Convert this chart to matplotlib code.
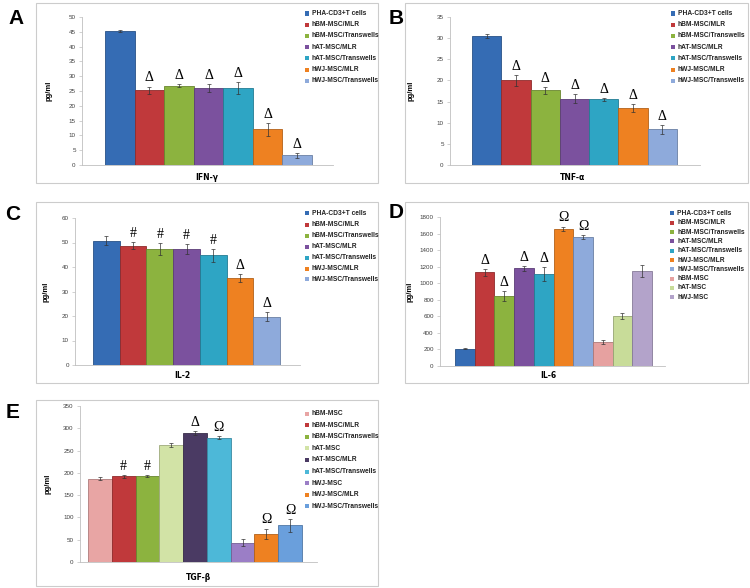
#!/usr/bin/env python3
''' cytokine levels in five bar panels (A-E)'''
import numpy as np
import matplotlib.pyplot as plt
from matplotlib.patches import Rectangle
from matplotlib.colors import to_rgb

W, H = 750, 588

# ---- data ----
groups7 = ['PHA-CD3+T cells', 'hBM-MSC/MLR', 'hBM-MSC/Transwells',
           'hAT-MSC/MLR', 'hAT-MSC/Transwells', 'hWJ-MSC/MLR',
           'hWJ-MSC/Transwells']
groups_il6 = groups7 + ['hBM-MSC', 'hAT-MSC', 'hWJ-MSC']
groups_tgf = ['hBM-MSC', 'hBM-MSC/MLR', 'hBM-MSC/Transwells', 'hAT-MSC',
              'hAT-MSC/MLR', 'hAT-MSC/Transwells', 'hWJ-MSC', 'hWJ-MSC/MLR',
              'hWJ-MSC/Transwells']

ifn = [45.2, 25.2, 26.8, 26.0, 26.0, 12.0, 3.3]
ifn_err = [0.4, 1.3, 0.6, 1.5, 2.0, 2.2, 0.8]
ifn_sig = ['', 'Δ', 'Δ', 'Δ', 'Δ', 'Δ', 'Δ']

tnf = [30.5, 20.0, 17.7, 15.7, 15.5, 13.5, 8.4]
tnf_err = [0.4, 1.3, 0.8, 1.0, 0.3, 1.0, 1.1]
tnf_sig = ['', 'Δ', 'Δ', 'Δ', 'Δ', 'Δ', 'Δ']

il2 = [50.8, 48.7, 47.3, 47.3, 44.7, 35.5, 19.7]
il2_err = [2.0, 1.5, 2.3, 2.0, 2.7, 1.5, 1.8]
il2_sig = ['', '#', '#', '#', '#', 'Δ', 'Δ']

il6 = [210, 1130, 850, 1180, 1110, 1660, 1560, 290, 600, 1150]
il6_err = [10, 40, 60, 30, 80, 25, 20, 30, 35, 75]
il6_sig = ['', 'Δ', 'Δ', 'Δ', 'Δ', 'Ω', 'Ω', '', '', '']

tgf = [187, 192, 193, 262, 290, 279, 43, 63, 82]
tgf_err = [4, 3, 3, 4, 4, 4, 8, 12, 15]
tgf_sig = ['', '#', '#', '', 'Δ', 'Ω', '', 'Ω', 'Ω']

# ---- colours ----
cols7 = ['#356CB4', '#C0393B', '#8CB33F', '#7B519E', '#2EA5C4', '#EE8121',
         '#8EAADB']
cols_il6 = cols7 + ['#E6A1A0', '#C8DC99', '#B3A3CA']
cols_tgf = ['#E8A5A4', '#C0393B', '#8CB33F', '#D2E3A6', '#4A3A63', '#4DB8D8',
            '#9B7EC6', '#EE8121', '#6A9FDC']

fig = plt.figure(figsize=(W / 100, H / 100), dpi=100)
fig.patch.set_facecolor('white')


def darker(c, f=0.75):
    r, g, b = to_rgb(c)
    return (r * f, g * f, b * f)


def ftext(x, y, s, **kw):
    fig.text(x / W, 1 - y / H, s, **kw)


def panel(letter, frame, axbox, bars_px, ymax, ystep, names, vals, errs,
          sigs, colors, xlabel, xl_pos, yl_x, leg_x, leg_y, leg_step,
          lpos):
    x0, y0, x1, y1 = frame
    fig.patches.append(Rectangle((x0 / W, 1 - y1 / H), (x1 - x0) / W,
                                 (y1 - y0) / H, transform=fig.transFigure,
                                 fill=False, edgecolor='#CCCCCC', lw=0.8))
    l, t, r, b = axbox
    ax = fig.add_axes([l / W, 1 - b / H, (r - l) / W, (b - t) / H])
    n = len(vals)
    x = np.arange(n)
    # map bar span in px to x limits
    upx = (bars_px[1] - bars_px[0]) / n
    ax.set_xlim(-0.5 - (bars_px[0] - l) / upx, n - 0.5 + (r - bars_px[1]) / upx)
    ax.set_ylim(0, ymax)
    ax.bar(x, vals, width=1.0, color=colors,
           edgecolor=[darker(c) for c in colors], linewidth=0.6, zorder=2)
    ax.errorbar(x, vals, yerr=errs, fmt='none', ecolor='#333333',
                elinewidth=0.5, capsize=1.2, capthick=0.5, zorder=3)
    for xi, v, e, s in zip(x, vals, errs, sigs):
        if s:
            ax.annotate(s, (xi, v + e), xytext=(0, 1.5),
                        textcoords='offset points', ha='center', va='bottom',
                        fontsize=10, family='Liberation Serif')
    ax.set_yticks(np.arange(0, ymax + ystep / 2, ystep))
    ax.set_xticks([])
    for sp in ['top', 'right']:
        ax.spines[sp].set_visible(False)
    for sp in ['left', 'bottom']:
        ax.spines[sp].set_color('#BFBFBF')
        ax.spines[sp].set_linewidth(0.6)
    ax.tick_params(axis='y', length=2, width=0.5, color='#BFBFBF',
                   labelsize=4.5, labelcolor='#404040', pad=2.5)
    ax.set_ylabel('pg/ml', fontsize=5.5, fontweight='bold',
                  family='Liberation Sans')
    ax.yaxis.set_label_coords((yl_x - l) / (r - l), 0.5)
    for lab in ax.get_yticklabels():
        lab.set_family('Liberation Sans')
    ftext(xl_pos[0], xl_pos[1], xlabel, fontsize=5.5, fontweight='bold',
          ha='center', va='center')
    # legend
    for i, (nm, c) in enumerate(zip(names, colors)):
        yy = leg_y + i * leg_step
        fig.patches.append(Rectangle(((leg_x - 2) / W, 1 - (yy + 2) / H),
                                     4 / W, 4 / H, transform=fig.transFigure,
                                     facecolor=c, edgecolor='none'))
        ftext(leg_x + 5, yy, nm, fontsize=4.8, fontweight='bold',
              family='Liberation Sans', color='#222222', va='center')
    ftext(lpos[0], lpos[1], letter, fontsize=15, fontweight='bold',
          family='Liberation Sans', ha='center', va='center')
    return ax


panel('A', (36, 3, 378, 183), (82, 17, 333, 165), (105, 312), 50, 5,
      groups7, ifn, ifn_err, ifn_sig, cols7, 'IFN-γ', (207, 178), 53,
      307, 13.5, 11.2, (16, 18))
panel('B', (405, 3, 748, 183), (450, 17, 700, 165), (472, 677), 35, 5,
      groups7, tnf, tnf_err, tnf_sig, cols7, 'TNF-α', (572, 178), 415,
      673, 13.5, 11.2, (396, 18))
panel('C', (36, 202, 378, 383), (75, 218, 300, 365), (93, 280), 60, 10,
      groups7, il2, il2_err, il2_sig, cols7, 'IL-2', (182, 375), 50,
      307, 213.5, 11.0, (13, 215))
panel('D', (405, 202, 748, 383), (440, 217, 665, 366), (455, 652), 1800,
      200, groups_il6, il6, il6_err, il6_sig, cols_il6, 'IL-6', (548, 375),
      414, 672, 213.5, 9.3, (396, 213))
panel('E', (36, 400, 378, 586), (80, 406, 317, 562), (88, 302), 350, 50,
      groups_tgf, tgf, tgf_err, tgf_sig, cols_tgf, 'TGF-β', (198, 578), 52,
      307, 413.5, 11.6, (13, 412))

fig.savefig('out.png', dpi=100)
